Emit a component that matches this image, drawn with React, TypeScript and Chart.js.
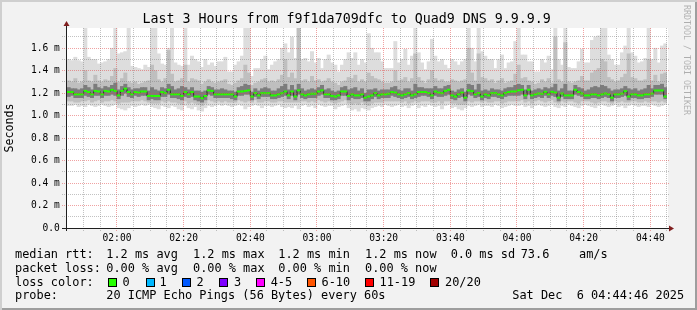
import React, { useEffect, useRef } from "react";
import { Chart, registerables } from "chart.js";

Chart.register(...registerables);

const TITLE = "Last 3 Hours from f9f1da709dfc to Quad9 DNS 9.9.9.9";
const Y_TITLE = "Seconds";
const WATERMARK = "RRDTOOL / TOBI OETIKER";
const START_MINUTE = 105; // 01:45
const SPAN_MINUTES = 180;
const Y_MAX = 1.78;
const Y_STEP = 0.1;
const X_STEP = 5;

// values in milliseconds, one per minute
const MEDIAN = [
  1.21,1.21,1.19,1.19,1.19,1.22,1.21,1.19,1.22,1.215,1.19,1.22,1.215,1.23,1.22,1.18,1.22,1.24,1.21,1.19,1.21,1.205,1.215,1.215,1.175,1.175,1.175,1.175,1.21,1.20,1.23,1.19,1.19,1.19,1.175,1.21,1.19,1.21,1.17,1.17,1.155,1.175,1.225,1.22,1.19,
  1.19,1.19,1.19,1.19,1.19,1.17,1.215,1.215,1.22,1.225,1.17,1.20,1.18,1.20,1.20,1.20,1.18,1.18,1.19,1.20,1.215,1.18,1.215,1.17,1.225,1.19,1.18,1.19,1.195,1.195,1.215,1.225,1.19,1.19,1.175,1.17,1.18,1.215,1.215,1.175,1.19,1.18,1.18,1.19,1.16,
  1.17,1.18,1.20,1.18,1.19,1.19,1.195,1.21,1.205,1.19,1.18,1.19,1.20,1.18,1.19,1.21,1.21,1.21,1.20,1.18,1.215,1.205,1.20,1.22,1.23,1.18,1.17,1.19,1.205,1.16,1.224,1.218,1.19,1.20,1.17,1.19,1.18,1.20,1.20,1.19,1.18,1.20,1.21,1.215,1.215,
  1.225,1.23,1.18,1.23,1.18,1.19,1.197,1.195,1.212,1.19,1.212,1.205,1.16,1.197,1.18,1.18,1.18,1.23,1.21,1.197,1.18,1.18,1.19,1.19,1.18,1.19,1.197,1.19,1.16,1.19,1.19,1.197,1.218,1.17,1.19,1.19,1.18,1.18,1.19,1.19,1.197,1.224,1.224,1.224,1.17,
];
const MAX_RTT = [
  1.50,1.49,1.52,1.49,1.48,1.80,1.52,1.50,1.50,1.46,1.47,1.48,1.50,1.60,1.80,1.55,1.56,1.57,1.80,1.44,1.43,1.42,1.41,1.45,1.43,1.80,1.80,1.55,1.46,1.45,1.60,1.80,1.47,1.45,1.44,1.80,1.45,1.53,1.50,1.48,1.43,1.50,1.45,1.47,1.44,
  1.48,1.48,1.52,1.39,1.39,1.45,1.48,1.53,1.80,1.80,1.35,1.42,1.42,1.50,1.53,1.41,1.45,1.48,1.50,1.60,1.64,1.56,1.70,1.51,1.80,1.50,1.51,1.48,1.57,1.47,1.51,1.42,1.50,1.54,1.47,1.45,1.39,1.45,1.50,1.56,1.51,1.56,1.45,1.50,1.47,
  1.73,1.60,1.56,1.56,1.48,1.42,1.42,1.42,1.66,1.47,1.50,1.59,1.45,1.53,1.80,1.56,1.47,1.41,1.48,1.68,1.53,1.48,1.50,1.45,1.42,1.50,1.48,1.45,1.48,1.50,1.80,1.60,1.48,1.80,1.57,1.53,1.50,1.50,1.42,1.50,1.54,1.42,1.47,1.48,1.66,
  1.80,1.54,1.54,1.48,1.48,1.39,1.39,1.50,1.47,1.53,1.41,1.80,1.50,1.45,1.80,1.43,1.42,1.42,1.48,1.59,1.47,1.47,1.67,1.70,1.71,1.80,1.80,1.54,1.50,1.45,1.45,1.56,1.62,1.80,1.56,1.53,1.47,1.48,1.51,1.80,1.50,1.60,1.47,1.62,1.64,
];
const UPPER_MID = [
  1.31,1.30,1.33,1.29,1.30,1.40,1.31,1.30,1.36,1.31,1.30,1.32,1.31,1.35,1.42,1.30,1.33,1.38,1.30,1.29,1.30,1.28,1.29,1.30,1.31,1.45,1.40,1.32,1.30,1.33,1.58,1.37,1.30,1.31,1.33,1.45,1.30,1.33,1.32,1.31,1.28,1.30,1.32,1.30,1.29,
  1.30,1.31,1.32,1.28,1.27,1.29,1.31,1.33,1.45,1.38,1.27,1.29,1.30,1.32,1.33,1.30,1.31,1.30,1.32,1.36,1.50,1.34,1.38,1.33,1.78,1.31,1.32,1.30,1.35,1.31,1.32,1.30,1.31,1.33,1.30,1.29,1.27,1.30,1.31,1.34,1.33,1.36,1.30,1.32,1.30,
  1.38,1.35,1.33,1.32,1.30,1.29,1.29,1.30,1.40,1.31,1.32,1.34,1.30,1.33,1.55,1.34,1.31,1.29,1.32,1.40,1.33,1.31,1.32,1.30,1.30,1.32,1.31,1.30,1.31,1.32,1.60,1.38,1.31,1.55,1.34,1.33,1.31,1.32,1.29,1.31,1.33,1.29,1.30,1.31,1.37,
  1.45,1.33,1.34,1.31,1.30,1.28,1.29,1.32,1.30,1.33,1.29,1.70,1.32,1.30,1.65,1.30,1.29,1.30,1.31,1.35,1.31,1.31,1.38,1.40,1.42,1.50,1.48,1.34,1.32,1.30,1.31,1.34,1.37,1.55,1.34,1.33,1.31,1.31,1.32,1.50,1.31,1.36,1.30,1.37,1.38,
];
const UPPER_CORE = [
  1.25,1.24,1.24,1.23,1.24,1.27,1.25,1.23,1.28,1.25,1.24,1.26,1.25,1.27,1.29,1.23,1.26,1.28,1.25,1.23,1.24,1.24,1.25,1.25,1.22,1.25,1.23,1.22,1.25,1.24,1.28,1.26,1.23,1.24,1.26,1.25,1.23,1.25,1.22,1.22,1.21,1.22,1.26,1.25,1.23,
  1.23,1.24,1.23,1.22,1.22,1.21,1.25,1.26,1.28,1.27,1.21,1.24,1.22,1.24,1.25,1.24,1.22,1.22,1.24,1.26,1.28,1.23,1.27,1.23,1.28,1.24,1.22,1.23,1.24,1.23,1.25,1.27,1.23,1.24,1.22,1.21,1.22,1.25,1.26,1.23,1.24,1.25,1.22,1.24,1.20,
  1.23,1.23,1.24,1.22,1.23,1.23,1.23,1.25,1.26,1.23,1.22,1.24,1.24,1.22,1.28,1.25,1.25,1.24,1.24,1.24,1.26,1.24,1.24,1.26,1.27,1.22,1.21,1.23,1.24,1.21,1.28,1.27,1.23,1.28,1.22,1.23,1.22,1.24,1.23,1.23,1.22,1.24,1.25,1.25,1.27,
  1.28,1.27,1.23,1.27,1.22,1.23,1.24,1.23,1.25,1.24,1.25,1.28,1.22,1.24,1.28,1.22,1.22,1.27,1.25,1.24,1.22,1.23,1.25,1.26,1.25,1.27,1.26,1.24,1.22,1.23,1.23,1.24,1.26,1.24,1.23,1.24,1.22,1.23,1.24,1.27,1.24,1.27,1.27,1.28,1.25,
];
const LOWER_CORE = [
  1.17,1.18,1.16,1.16,1.16,1.18,1.17,1.16,1.18,1.18,1.16,1.18,1.18,1.19,1.18,1.15,1.18,1.20,1.17,1.16,1.18,1.17,1.18,1.18,1.14,1.15,1.14,1.14,1.17,1.17,1.19,1.16,1.16,1.15,1.14,1.17,1.16,1.17,1.14,1.13,1.12,1.14,1.19,1.18,1.16,
  1.16,1.16,1.16,1.16,1.15,1.14,1.18,1.18,1.19,1.19,1.14,1.17,1.15,1.17,1.17,1.17,1.15,1.15,1.16,1.17,1.18,1.15,1.18,1.14,1.19,1.16,1.15,1.16,1.16,1.16,1.18,1.19,1.16,1.16,1.14,1.14,1.15,1.18,1.18,1.14,1.16,1.15,1.15,1.16,1.13,
  1.13,1.15,1.17,1.15,1.16,1.16,1.16,1.18,1.17,1.16,1.15,1.16,1.17,1.15,1.16,1.17,1.18,1.18,1.17,1.15,1.18,1.17,1.17,1.18,1.19,1.15,1.14,1.16,1.17,1.13,1.19,1.18,1.16,1.17,1.14,1.16,1.15,1.17,1.17,1.16,1.15,1.17,1.18,1.18,1.18,
  1.18,1.19,1.15,1.19,1.15,1.16,1.17,1.16,1.18,1.16,1.18,1.17,1.13,1.17,1.15,1.15,1.15,1.19,1.18,1.17,1.15,1.15,1.16,1.16,1.15,1.16,1.17,1.16,1.13,1.16,1.16,1.17,1.18,1.14,1.16,1.16,1.15,1.15,1.16,1.16,1.17,1.19,1.19,1.19,1.15,
];
const LOWER_MID = [
  1.13,1.13,1.12,1.12,1.13,1.13,1.14,1.12,1.13,1.14,1.12,1.13,1.13,1.14,1.13,1.11,1.12,1.12,1.12,1.13,1.13,1.13,1.14,1.13,1.12,1.11,1.11,1.11,1.13,1.12,1.13,1.12,1.12,1.11,1.10,1.13,1.11,1.12,1.11,1.10,1.09,1.11,1.14,1.13,1.12,
  1.13,1.12,1.13,1.12,1.12,1.12,1.14,1.13,1.12,1.13,1.12,1.14,1.12,1.12,1.13,1.13,1.12,1.12,1.13,1.13,1.12,1.12,1.12,1.12,1.12,1.13,1.13,1.12,1.13,1.12,1.14,1.13,1.12,1.13,1.12,1.11,1.12,1.13,1.14,1.11,1.10,1.11,1.10,1.12,1.10,
  1.09,1.11,1.12,1.12,1.12,1.13,1.13,1.13,1.13,1.13,1.12,1.13,1.11,1.12,1.13,1.12,1.13,1.13,1.13,1.12,1.12,1.13,1.11,1.13,1.13,1.11,1.11,1.10,1.10,1.10,1.13,1.12,1.13,1.13,1.12,1.13,1.12,1.12,1.13,1.13,1.11,1.12,1.13,1.13,1.13,
  1.13,1.14,1.12,1.13,1.11,1.13,1.14,1.13,1.12,1.13,1.14,1.12,1.11,1.13,1.12,1.13,1.13,1.12,1.11,1.13,1.13,1.13,1.12,1.11,1.12,1.13,1.13,1.12,1.11,1.13,1.12,1.13,1.12,1.12,1.13,1.13,1.12,1.12,1.13,1.12,1.13,1.13,1.12,1.13,1.12,
];
const MIN_RTT = [
  1.09,1.09,1.10,1.08,1.09,1.08,1.10,1.09,1.08,1.09,1.10,1.09,1.08,1.09,1.10,1.07,1.06,1.05,1.07,1.09,1.08,1.09,1.10,1.09,1.10,1.08,1.07,1.06,1.09,1.08,1.07,1.09,1.08,1.06,1.05,1.09,1.07,1.06,1.08,1.05,1.04,1.07,1.09,1.08,1.09,
  1.10,1.09,1.10,1.09,1.08,1.09,1.10,1.09,1.06,1.08,1.09,1.10,1.09,1.07,1.09,1.09,1.08,1.09,1.10,1.08,1.07,1.08,1.07,1.09,1.06,1.09,1.10,1.08,1.09,1.07,1.10,1.09,1.08,1.09,1.09,1.06,1.08,1.09,1.10,1.07,1.05,1.06,1.04,1.07,1.06,
  1.05,1.07,1.08,1.09,1.08,1.10,1.09,1.08,1.09,1.10,1.08,1.09,1.07,1.09,1.10,1.07,1.09,1.08,1.10,1.09,1.08,1.09,1.06,1.09,1.10,1.07,1.08,1.06,1.05,1.07,1.09,1.08,1.09,1.10,1.08,1.09,1.09,1.08,1.10,1.09,1.07,1.08,1.09,1.10,1.09,
  1.09,1.10,1.08,1.09,1.07,1.09,1.10,1.09,1.08,1.09,1.10,1.08,1.07,1.09,1.08,1.10,1.09,1.08,1.07,1.09,1.10,1.09,1.08,1.07,1.09,1.10,1.09,1.08,1.09,1.10,1.08,1.09,1.07,1.09,1.10,1.09,1.08,1.09,1.09,1.08,1.10,1.09,1.08,1.09,1.10,
];

const RTT_LEGEND = ["median rtt:", "1.2 ms avg", "1.2 ms max", "1.2 ms min", "1.2 ms now", "0.0 ms sd", "73.6", "am/s"];
const LOSS_LEGEND = ["packet loss:", "0.00 % avg", "0.00 % max", "0.00 % min", "0.00 % now"];
const LOSS_COLOR_TITLE = "loss color:";
const LOSS_LABELS = ["0", "1", "2", "3", "4-5", "6-10", "11-19", "20/20"];
const LOSS_COLORS = ["#26ff00", "#00b8ff", "#0059ff", "#7e00ff", "#ff00ff", "#ff5500", "#ff0000", "#a10000"];
const PROBE_LEGEND = ["probe:", "20 ICMP Echo Pings (56 Bytes) every 60s"];
const STAMP = "Sat Dec  6 04:44:46 2025";

// layout (pixels)
const COL_X = [15, 106.3, 193, 278.3, 365, 450.7, 520.7, 579];
const BOX_X = [108, 145.5, 182, 219, 256, 307, 365, 430];
const BOX_LABEL_X = [122.5, 159.5, 196.5, 234, 270.7, 321.5, 379.5, 445];
const LINE_TOP = [247.3, 260.8, 274.5, 288.1];

const MONO = '"DejaVu Sans Mono", monospace';
const GRID_MINOR = "rgba(120,120,120,0.45)";
const GRID_MAJOR = "rgba(225,70,70,0.5)";

function hhmm(v: number) {
  const t = START_MINUTE + v;
  const h = Math.floor(t / 60);
  const m = t % 60;
  return String(h).padStart(2, "0") + ":" + String(m).padStart(2, "0");
}
const isMajorX = (v: number) => Math.round(v - 15) % 20 === 0;
const isMajorY = (v: number) => Math.round(v * 10) % 2 === 0;

const rrdPlugin = {
  id: "rrdFrame",
  beforeDraw(chart: any) {
    const { ctx, chartArea: a } = chart;
    ctx.save();
    ctx.fillStyle = "#ffffff";
    ctx.fillRect(a.left, a.top, a.right - a.left + 1, a.bottom - a.top);
    ctx.restore();
  },
  afterDatasetsDraw(chart: any) {
    const { ctx, chartArea: a } = chart;
    const xs = chart.scales.x;
    const ys = chart.scales.y;
    ctx.save();
    for (const t of xs.ticks) {
      const px = Math.floor(xs.getPixelForValue(t.value) - 0.3);
      if (px <= a.left) continue;
      ctx.fillStyle = isMajorX(t.value) ? GRID_MAJOR : GRID_MINOR;
      for (let yy = Math.ceil(a.top); yy < a.bottom + 3; yy += 2) ctx.fillRect(px, yy, 1, 1);
    }
    for (const t of ys.ticks) {
      const py = Math.floor(ys.getPixelForValue(t.value));
      if (py >= a.bottom - 0.5) continue;
      ctx.fillStyle = isMajorY(t.value) ? GRID_MAJOR : GRID_MINOR;
      for (let xx = Math.floor(a.left) - 5; xx < a.right + 2; xx += 2) ctx.fillRect(xx, py, 1, 1);
    }
    ctx.restore();
  },
  afterDraw(chart: any) {
    const { ctx, chartArea: a } = chart;
    ctx.save();
    ctx.strokeStyle = "#1f1f1f";
    ctx.lineWidth = 1;
    ctx.beginPath();
    ctx.moveTo(a.left - 5, a.bottom + 0.5);
    ctx.lineTo(a.right + 3, a.bottom + 0.5);
    ctx.moveTo(a.left - 0.5, a.bottom + 3);
    ctx.lineTo(a.left - 0.5, a.top - 2);
    ctx.stroke();
    ctx.fillStyle = "#801f1f";
    ctx.beginPath();
    ctx.moveTo(a.left - 3.5, a.top - 2);
    ctx.lineTo(a.left + 2.5, a.top - 2);
    ctx.lineTo(a.left - 0.5, a.top - 7);
    ctx.closePath();
    ctx.fill();
    ctx.beginPath();
    ctx.moveTo(a.right + 2, a.bottom - 2.5);
    ctx.lineTo(a.right + 2, a.bottom + 3.5);
    ctx.lineTo(a.right + 7, a.bottom + 0.5);
    ctx.closePath();
    ctx.fill();
    ctx.restore();
  },
};

function band(lo: number[], hi: number[], color: string, order: number) {
  return {
    type: "bar" as const,
    data: lo.map((v, i) => ({ x: i + 0.5, y: [v, hi[i]] })),
    backgroundColor: color,
    borderWidth: 0,
    barPercentage: 1,
    categoryPercentage: 1,
    grouped: false,
    order,
  };
}

export default function App() {
  const ref = useRef<HTMLCanvasElement>(null);
  useEffect(() => {
    const canvas = ref.current;
    if (!canvas) return;
    const medPts = MEDIAN.map((v, i) => ({ x: i + 0.5, y: v }));
    const chart = new Chart(canvas, {
      type: "bar",
      data: {
        datasets: [
          {
            type: "line",
            data: medPts,
            showLine: false,
            pointStyle: "line",
            pointRadius: 1.8,
            pointHoverRadius: 1.8,
            pointBorderWidth: 2,
            pointBorderColor: "#26ff00",
            pointBackgroundColor: "#26ff00",
            order: 0,
          } as any,
          {
            type: "line",
            data: medPts,
            stepped: "middle",
            borderColor: "#2a2a2a",
            borderWidth: 1,
            pointRadius: 0,
            fill: false,
            order: 1,
          } as any,
          band(LOWER_CORE, UPPER_CORE, "#7c7c7c", 2),
          band(LOWER_MID, UPPER_MID, "#bfbfbf", 3),
          band(MIN_RTT, MAX_RTT, "#dddddd", 4),
        ] as any,
      },
      options: {
        responsive: false,
        animation: false,
        devicePixelRatio: 1,
        events: [],
        layout: { padding: { left: 0, right: 30, top: 28, bottom: 62 } },
        plugins: { legend: { display: false }, tooltip: { enabled: false }, title: { display: false } },
        scales: {
          x: {
            type: "linear",
            min: 0,
            max: SPAN_MINUTES,
            offset: false,
            grid: {
              offset: false,
              color: "rgba(0,0,0,0)",
              drawTicks: true,
              tickLength: 3,
            },
            border: { display: false },
            ticks: {
              stepSize: X_STEP,
              autoSkip: false,
              maxRotation: 0,
              minRotation: 0,
              padding: 1.5,
              color: "#000",
              font: { family: MONO, size: 9.6 },
              callback: (v: any) => (isMajorX(Number(v)) ? hhmm(Number(v)) : ""),
            },
            afterFit: (s: any) => {
              s.height = 20;
            },
          },
          y: {
            type: "linear",
            min: 0,
            max: Y_MAX,
            stacked: false,
            grid: {
              color: "rgba(0,0,0,0)",
              drawTicks: true,
              tickLength: 4,
            },
            border: { display: false },
            ticks: {
              stepSize: Y_STEP,
              includeBounds: false,
              autoSkip: false,
              padding: 3.2,
              color: "#000",
              font: { family: MONO, size: 9.6 },
              callback: (v: any) => {
                const n = Number(v);
                if (!isMajorY(n)) return "";
                return n === 0 ? "0.0" : n.toFixed(1) + " m";
              },
            },
            title: {
              display: true,
              text: Y_TITLE,
              color: "#000",
              font: { family: MONO, size: 11.6 },
              padding: { top: 3, bottom: 0 },
            },
            afterFit: (s: any) => {
              s.width = 67;
            },
          },
        },
      } as any,
      plugins: [rrdPlugin],
    });
    return () => chart.destroy();
  }, []);

  const txt = (left: number, top: number, s: string, key: string, extra: any = {}) => (
    <div
      key={key}
      style={{
        position: "absolute",
        left,
        top,
        fontFamily: MONO,
        fontSize: "11.9px",
        lineHeight: "14px",
        whiteSpace: "pre",
        color: "#000",
        ...extra,
      }}
    >
      {s}
    </div>
  );

  return (
    <div
      style={{
        position: "relative",
        width: 697,
        height: 310,
        background: "#f2f2f2",
        boxShadow: "inset 2px 2px 0 #cfcfcf, inset -2px -2px 0 #9e9e9e",
        overflow: "hidden",
      }}
    >
      <style>{`html,body{margin:0;padding:0;}`}</style>
      <canvas ref={ref} width={697} height={310} style={{ position: "absolute", left: 0, top: 0 }} />
      <div
        style={{
          position: "absolute",
          left: 142.5,
          top: 11.1,
          fontFamily: MONO,
          fontSize: "13.3px",
          lineHeight: "16px",
          whiteSpace: "pre",
          color: "#000",
        }}
      >
        {TITLE}
      </div>
      <div
        style={{
          position: "absolute",
          left: 682,
          top: 5,
          writingMode: "vertical-rl",
          fontFamily: MONO,
          fontSize: "8.3px",
          lineHeight: "10px",
          whiteSpace: "pre",
          color: "rgba(0,0,0,0.28)",
        }}
      >
        {WATERMARK}
      </div>
      {RTT_LEGEND.map((s, i) => txt(COL_X[i], LINE_TOP[0], s, "r" + i))}
      {LOSS_LEGEND.map((s, i) => txt(COL_X[i], LINE_TOP[1], s, "l" + i))}
      {txt(COL_X[0], LINE_TOP[2], LOSS_COLOR_TITLE, "lct")}
      {LOSS_LABELS.map((s, i) => (
        <React.Fragment key={"b" + i}>
          <div
            style={{
              position: "absolute",
              left: BOX_X[i],
              top: 278,
              width: 9,
              height: 9,
              boxSizing: "border-box",
              border: "1px solid #000",
              background: LOSS_COLORS[i],
            }}
          />
          {txt(BOX_LABEL_X[i], LINE_TOP[2], s, "bl" + i)}
        </React.Fragment>
      ))}
      {txt(COL_X[0], LINE_TOP[3], PROBE_LEGEND[0], "p0")}
      {txt(COL_X[1], LINE_TOP[3], PROBE_LEGEND[1], "p1")}
      {txt(512.3, LINE_TOP[3], STAMP, "st")}
    </div>
  );
}
